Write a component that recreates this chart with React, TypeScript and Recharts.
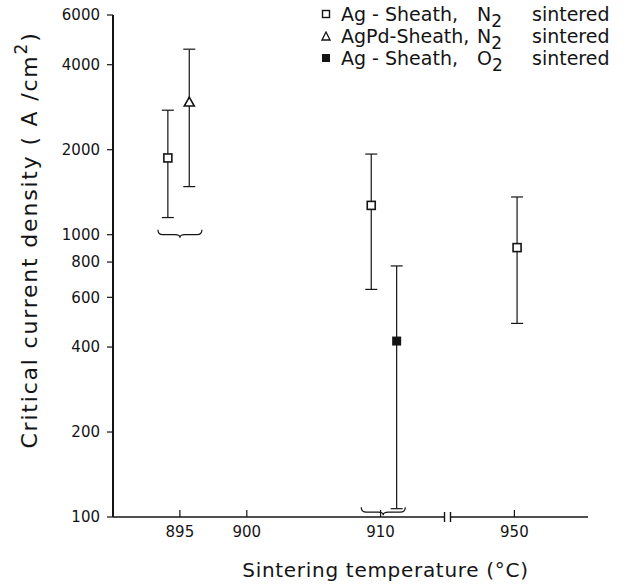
import {
  ComposedChart,
  Scatter,
  XAxis,
  YAxis,
  ErrorBar,
  ReferenceDot,
  Legend,
  Label,
} from "recharts";

// readings (temperature as plotted, slightly dodged sideways)
const agN2Temp = [894.1, 909.3, 950.2];
const agN2Jc = [1870, 1270, 900];
const agN2Low = [1150, 640, 485];
const agN2High = [2760, 1930, 1360];

const agPdN2Temp = [895.7];
const agPdN2Jc = [2950];
const agPdN2Low = [1480];
const agPdN2High = [4540];

const agO2Temp = [911.2];
const agO2Jc = [420];
const agO2Low = [107];
const agO2High = [775];

const tempTicks = [895, 900, 910, 950];
const jcTicks = [100, 200, 400, 600, 800, 1000, 2000, 4000, 6000];

// groups marked with a brace
const braceTemps = [895, 910.2];
const braceJc = [1000, 104];

// broken x axis: everything above 915 is pulled left by 30 degrees
const BREAK_AT = 915;
const GAP = 30;
const pos = (t: number) => (t > BREAK_AT ? t - GAP : t);
const unpos = (p: number) => (p > BREAK_AT ? p + GAP : p);

const INK = "#141414";
const FONT = "'DejaVu Sans', sans-serif";

const build = (temps: number[], jc: number[], low: number[], high: number[]) =>
  temps.map((t, i) => ({
    x: pos(t),
    y: jc[i],
    err: [jc[i] - low[i], high[i] - jc[i]],
  }));

const agN2 = build(agN2Temp, agN2Jc, agN2Low, agN2High);
const agPdN2 = build(agPdN2Temp, agPdN2Jc, agPdN2Low, agPdN2High);
const agO2 = build(agO2Temp, agO2Jc, agO2Low, agO2High);
const braces = braceTemps.map((t, i) => ({ x: pos(t), y: braceJc[i] }));

const OpenSquare = ({ cx, cy }: any) => (
  <rect x={cx - 4} y={cy - 4} width={8} height={8} fill="#fff" stroke={INK} strokeWidth={1.6} />
);
const OpenTriangle = ({ cx, cy }: any) => (
  <polygon
    points={`${cx},${cy - 5} ${cx - 5},${cy + 4} ${cx + 5},${cy + 4}`}
    fill="#fff"
    stroke={INK}
    strokeWidth={1.6}
  />
);
const FilledSquare = ({ cx, cy }: any) => (
  <rect x={cx - 4.5} y={cy - 4.5} width={9} height={9} fill={INK} />
);

const Brace = ({ cx, cy }: any) => {
  const h = 22;
  return (
    <path
      d={`M${cx - h},${cy - 5} Q${cx - h},${cy} ${cx - h + 5},${cy} L${cx - 5},${cy} Q${cx},${cy} ${cx},${cy + 3} Q${cx},${cy} ${cx + 5},${cy} L${cx + h - 5},${cy} Q${cx + h},${cy} ${cx + h},${cy - 5}`}
      fill="none"
      stroke={INK}
      strokeWidth={1.2}
    />
  );
};

const AxisBreak = ({ cx, cy }: any) => (
  <g>
    <rect x={cx - 3} y={cy - 3} width={6} height={6} fill="#fff" />
    <line x1={cx - 3} x2={cx - 3} y1={cy - 5} y2={cy + 5} stroke={INK} strokeWidth={1.4} />
    <line x1={cx + 3} x2={cx + 3} y1={cy - 5} y2={cy + 5} stroke={INK} strokeWidth={1.4} />
  </g>
);

const XTick = ({ x, y, payload }: any) => (
  <g>
    <line x1={x} x2={x} y1={y} y2={y - 7} stroke={INK} strokeWidth={1.2} />
    <text x={x} y={y + 20} textAnchor="middle" fontSize={15} fontFamily={FONT} fill={INK}>
      {unpos(payload.value)}
    </text>
  </g>
);

const YTitle = ({ viewBox }: any) => {
  const cx = viewBox.x + 29;
  const cy = viewBox.y + viewBox.height / 2 - 26;
  return (
    <text
      x={cx}
      y={cy}
      transform={`rotate(-90 ${cx} ${cy})`}
      textAnchor="middle"
      dominantBaseline="central"
      fontSize={22}
      letterSpacing={1.8}
      fontFamily={FONT}
      fill={INK}
    >
      Critical current density ( A /cm
      <tspan dy={-8} fontSize={17}>2</tspan>
      <tspan dy={8}>)</tspan>
    </text>
  );
};

const XTitle = ({ viewBox }: any) => (
  <text
    x={viewBox.x + viewBox.width / 2 + 35}
    y={viewBox.y + 60}
    textAnchor="middle"
    fontSize={20}
    letterSpacing={0.7}
    fontFamily={FONT}
    fill={INK}
  >
    Sintering temperature (°C)
  </text>
);

const legendRows = [
  { marker: "open-square", name: "Ag - Sheath,", gas: "N" },
  { marker: "open-triangle", name: "AgPd-Sheath,", gas: "N" },
  { marker: "filled-square", name: "Ag - Sheath,", gas: "O" },
];

const LegendMarker = ({ kind }: { kind: string }) => (
  <svg width={10} height={10} style={{ marginRight: 10, flex: "none" }}>
    {kind === "open-square" && (
      <rect x={1.5} y={1.5} width={7} height={7} fill="#fff" stroke={INK} strokeWidth={1.4} />
    )}
    {kind === "open-triangle" && (
      <polygon points="5,1 1,9 9,9" fill="#fff" stroke={INK} strokeWidth={1.3} />
    )}
    {kind === "filled-square" && <rect x={1} y={1} width={8} height={8} fill={INK} />}
  </svg>
);

const LegendBox = () => (
  <div style={{ fontFamily: FONT, fontSize: 19, color: INK, lineHeight: "22px" }}>
    {legendRows.map((r) => (
      <div key={r.marker} style={{ display: "flex", alignItems: "center", height: 22 }}>
        <LegendMarker kind={r.marker} />
        <span style={{ width: 136, whiteSpace: "nowrap" }}>{r.name}</span>
        <span style={{ width: 55, whiteSpace: "nowrap" }}>
          {r.gas}
          <span style={{ fontSize: 17, position: "relative", top: 6 }}>2</span>
        </span>
        <span>sintered</span>
      </div>
    ))}
  </div>
);

export default function App() {
  return (
    <div style={{ position: "absolute", left: 0, top: 0, width: 628, height: 586, background: "#fff" }}>
      <ComposedChart
        width={628}
        height={586}
        margin={{ top: 15, right: 40, bottom: 0, left: 0 }}
      >
        <XAxis
          type="number"
          dataKey="x"
          domain={[890, 925.5]}
          ticks={tempTicks.map(pos)}
          interval={0}
          allowDataOverflow
          height={69}
          tickSize={0}
          tickMargin={0}
          tickLine={false}
          tick={<XTick />}
          axisLine={{ stroke: INK, strokeWidth: 1.6 }}
          label={<Label content={<XTitle />} />}
        />
        <YAxis
          type="number"
          dataKey="y"
          scale="log"
          domain={[100, 6000]}
          ticks={jcTicks}
          interval={0}
          allowDataOverflow
          width={113}
          tickSize={6}
          tickMargin={7}
          tick={{ fontSize: 15, fontFamily: FONT, fill: INK }}
          tickLine={{ stroke: INK, strokeWidth: 1.2 }}
          axisLine={{ stroke: INK, strokeWidth: 2 }}
          label={<Label content={<YTitle />} />}
        />
        <Legend
          layout="vertical"
          align="center"
          verticalAlign="middle"
          wrapperStyle={{ top: 3, left: 321, width: 307, height: 70 }}
          content={<LegendBox />}
        />
        <Scatter name="Ag-Sheath, N2 sintered" data={agN2} shape={<OpenSquare />} isAnimationActive={false}>
          <ErrorBar dataKey="err" direction="y" width={6} stroke={INK} strokeWidth={1.2} />
        </Scatter>
        <Scatter name="AgPd-Sheath, N2 sintered" data={agPdN2} shape={<OpenTriangle />} isAnimationActive={false}>
          <ErrorBar dataKey="err" direction="y" width={6} stroke={INK} strokeWidth={1.2} />
        </Scatter>
        <Scatter name="Ag-Sheath, O2 sintered" data={agO2} shape={<FilledSquare />} isAnimationActive={false}>
          <ErrorBar dataKey="err" direction="y" width={6} stroke={INK} strokeWidth={1.2} />
        </Scatter>
        {braces.map((b, i) => (
          <ReferenceDot key={i} x={b.x} y={b.y} ifOverflow="visible" shape={<Brace />} />
        ))}
        <ReferenceDot x={BREAK_AT} y={100} ifOverflow="visible" shape={<AxisBreak />} />
      </ComposedChart>
    </div>
  );
}
